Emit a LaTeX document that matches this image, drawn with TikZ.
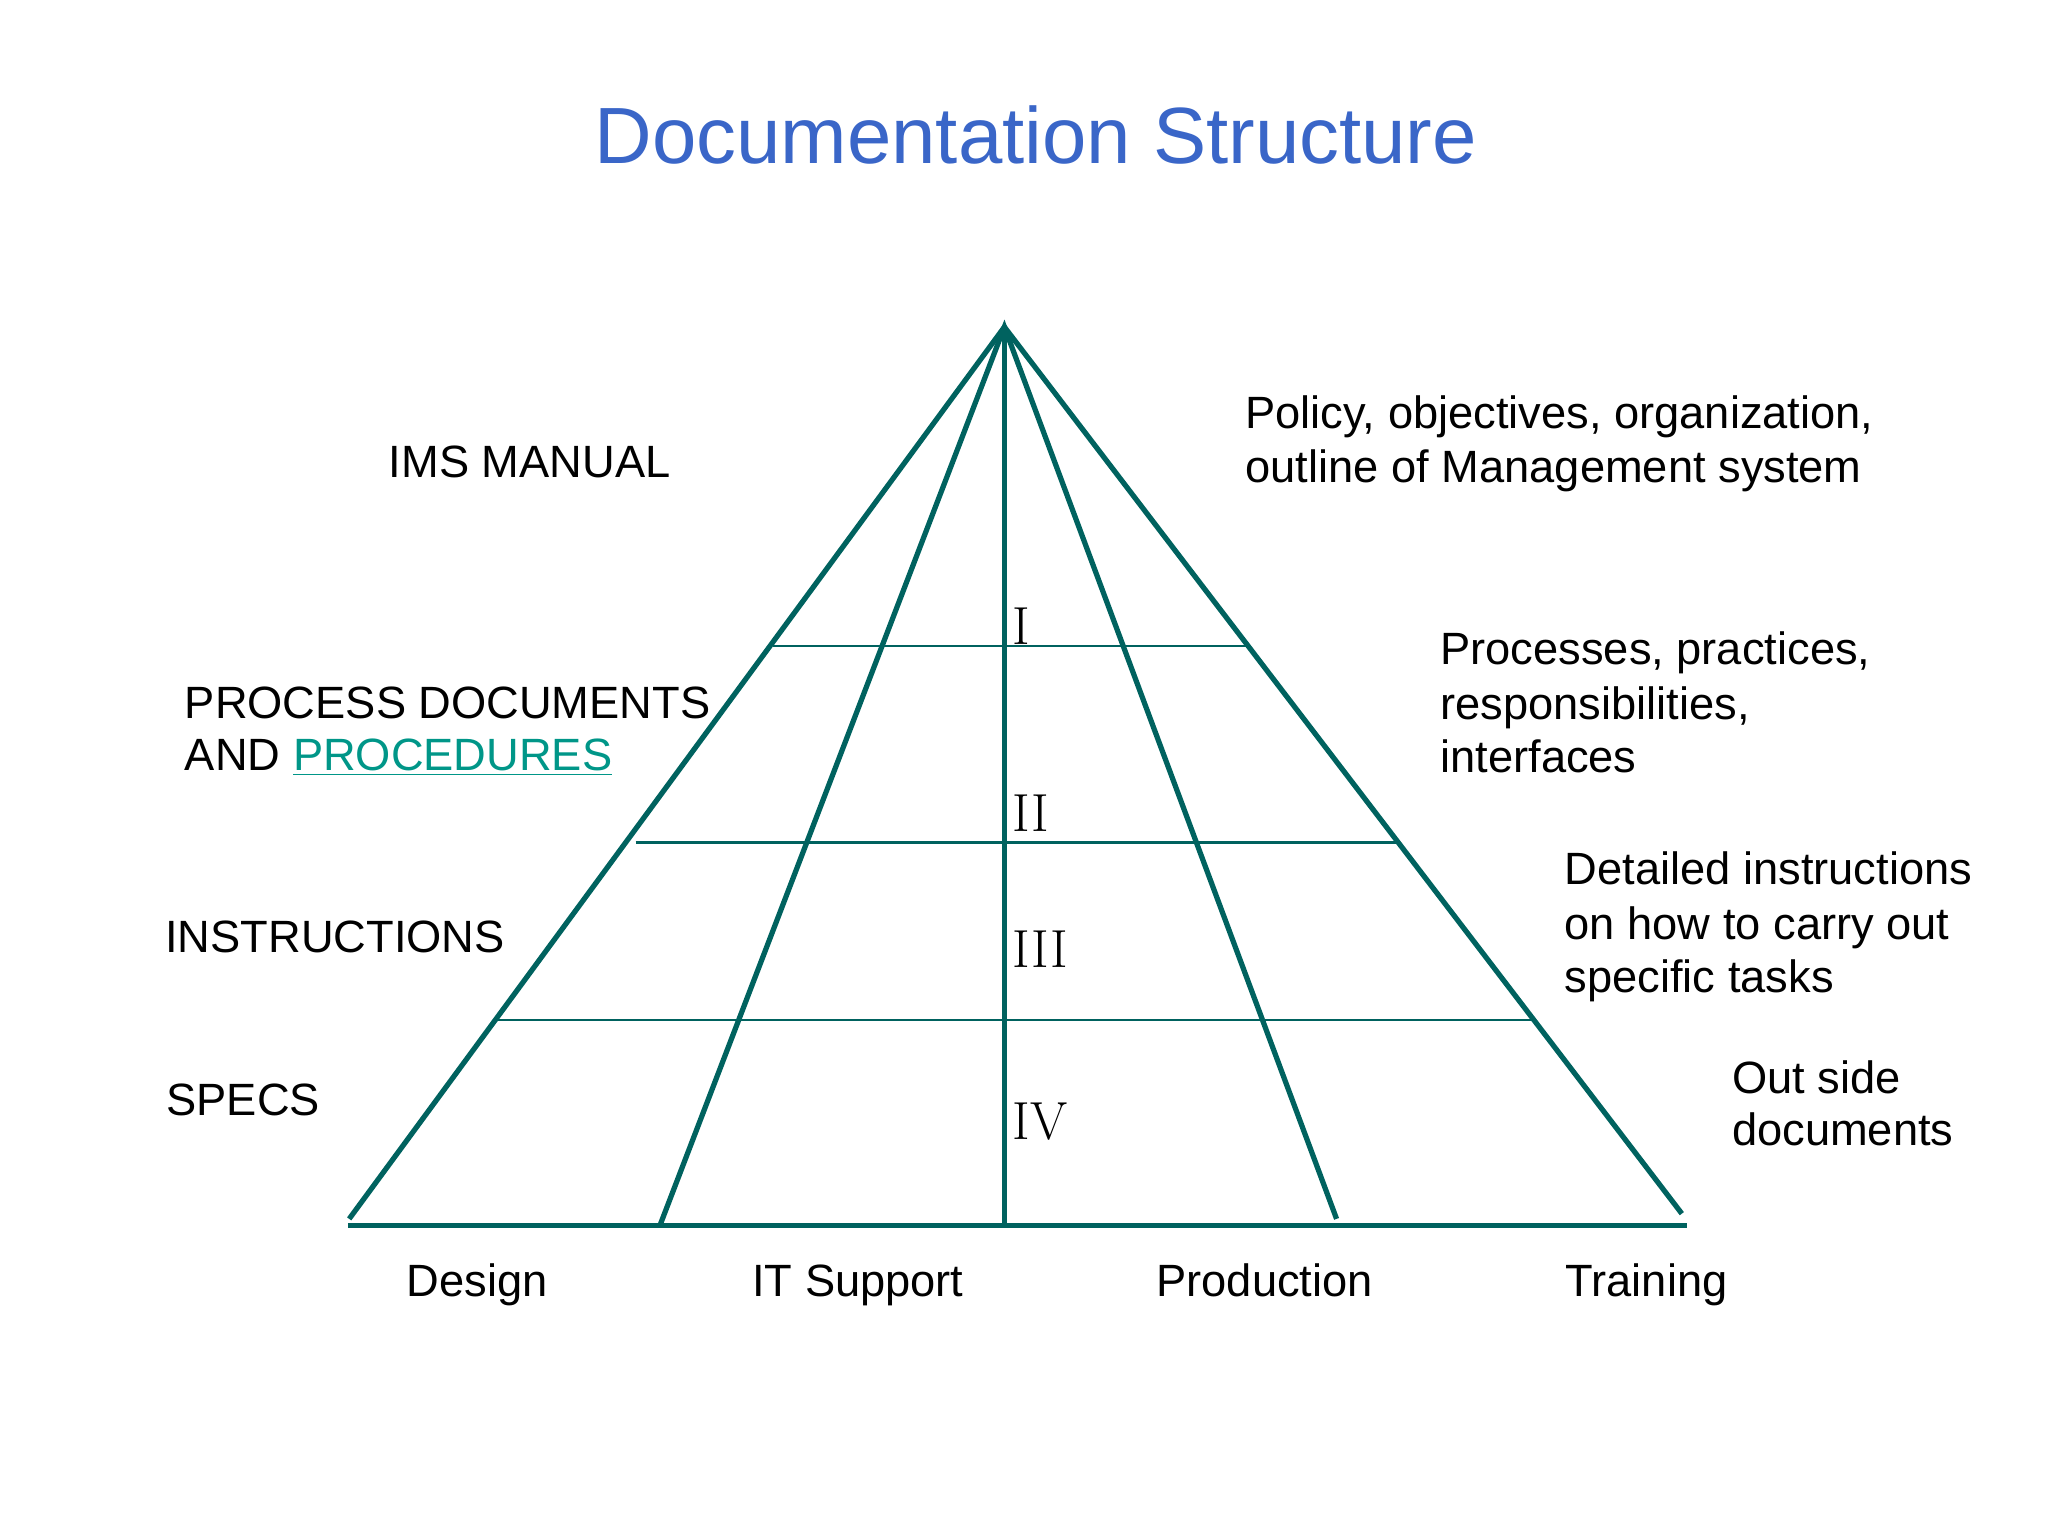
\documentclass[tikz,border=0pt]{standalone}
\usepackage{fontspec}
\setmainfont{Liberation Sans}
\newfontfamily\romanfont{Latin Modern Roman}
\definecolor{teal1}{RGB}{0,98,95}
\definecolor{titleblue}{RGB}{58,102,200}
\definecolor{linkteal}{RGB}{0,150,136}
\begin{document}
\begin{tikzpicture}[x=0.5pt,y=-0.5pt,
  thickl/.style={draw=teal1,line width=2pt},
  thinl/.style={draw=teal1,line width=1pt},
  lbl/.style={anchor=base west,inner sep=0pt,font=\fontsize{17.3}{20.5}\selectfont},
  clbl/.style={anchor=base,inner sep=0pt,font=\fontsize{17.3}{20.5}\selectfont},
  rom/.style={anchor=base west,inner sep=0pt,font=\romanfont\fontsize{20.5}{24}\selectfont}]
\useasboundingbox (0,0) rectangle (1566,1174.5);
\node[anchor=base,inner sep=0pt,text=titleblue,font=\fontsize{30.5}{36}\selectfont] (title) at (792,125) {Documentation Structure};
\coordinate (apex) at (768,250);
\coordinate (bl) at (267,932);
\coordinate (br) at (1286,928);
\coordinate (b1) at (505,936);
\coordinate (b2) at (1022,932);
\coordinate (bm) at (768,937);
\coordinate (base0) at (266,937);
\coordinate (base1) at (1290,937);
\draw[thickl] (bl) -- (apex) -- (br);
\draw[thickl] (b1) -- (apex) -- (b2);
\draw[thickl] (apex) -- (bm);
\draw[thickl] (base0) -- (base1);
\coordinate (h1a) at (591,494); \coordinate (h1b) at (955,494);
\coordinate (h2a) at (486,644); \coordinate (h2b) at (1070,644);
\coordinate (h3a) at (379,780); \coordinate (h3b) at (1174,780);
\draw[thinl] (h1a) -- (h1b);
\draw[thinl] (h2a) -- (h2b);
\draw[thinl] (h3a) -- (h3b);
\node[rom] (r1) at (774,493) {I};
\node[rom] (r2) at (774,636) {II};
\node[rom] (r3) at (774,740) {III};
\node[rom] (r4) at (774,871) {IV};
\node[lbl] (ims) at (297,365) {IMS MANUAL};
\node[lbl] (pd1) at (141,549) {PROCESS DOCUMENTS};
\node[lbl] (pd2) at (141,589) {AND \textcolor{linkteal}{\underline{PROCEDURES}}};
\node[lbl] (ins) at (126,728) {INSTRUCTIONS};
\node[lbl] (spec) at (127,853) {SPECS};
\node[lbl] (p1) at (952,328) {Policy, objectives, organization,};
\node[lbl] (p2) at (952,369) {outline of Management system};
\node[lbl] (q1) at (1101,508) {Processes, practices,};
\node[lbl] (q2) at (1101,550) {responsibilities,};
\node[lbl] (q3) at (1101,591) {interfaces};
\node[lbl] (d1) at (1196,676) {Detailed instructions};
\node[lbl] (d2) at (1196,718) {on how to carry out};
\node[lbl] (d3) at (1196,759) {specific tasks};
\node[lbl] (o1) at (1324,836) {Out side};
\node[lbl] (o2) at (1324,876) {documents};
\node[clbl] (c1) at (365,991) {Design};
\node[clbl] (c2) at (656,991) {IT Support};
\node[clbl] (c3) at (967,991) {Production};
\node[clbl] (c4) at (1259,991) {Training};
\end{tikzpicture}
\end{document}
